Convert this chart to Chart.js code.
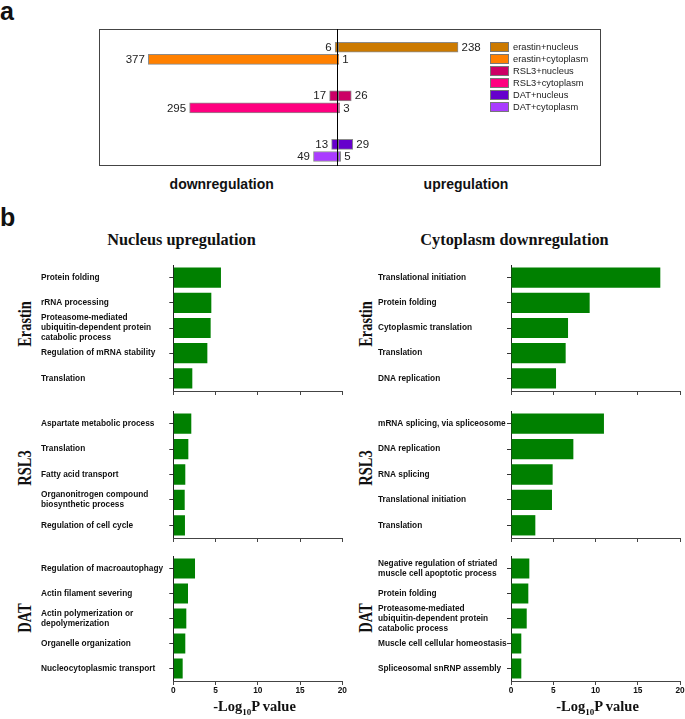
<!DOCTYPE html>
<html>
<head>
<meta charset="utf-8">
<script src="https://cdn.jsdelivr.net/npm/chart.js@4.4.0/dist/chart.umd.min.js"></script>
<style>
    body { margin: 0; background: #fff; }
    #page { position: relative; width: 685px; height: 719px; overflow: hidden; font-family: "Liberation Sans", Arial, sans-serif; }
    canvas { position: absolute; }
    .t { position: absolute; white-space: nowrap; line-height: 1; color: #111; }
    .c { transform: translateX(-50%); }
    .sans { font-family: "Liberation Sans", Arial, sans-serif; font-weight: bold; }
    .serif { font-family: "Liberation Serif", "Times New Roman", serif; font-weight: bold; }
    .rot { font-size: 19px; transform: translate(-50%, -50%) rotate(-90deg) scaleX(0.76); }
    .lg { position: absolute; left: 490px; height: 12px; font-size: 9.3px; color: #222; white-space: nowrap; }
    .lg span.sw { position: absolute; left: 0; top: 1px; width: 19px; height: 10px; box-sizing: border-box; border: 1px solid #777; }
    .lg span.tx { position: absolute; left: 23px; top: 1px; line-height: 10px; }
</style>
</head>
<body>
<div id="page">
    <div class="t sans" style="left:0px;top:-1px;font-size:25px;">a</div>
    <div class="t sans" style="left:0px;top:205px;font-size:25px;">b</div>

    <canvas id="panelA" width="502" height="137" style="left:99px;top:29px;"></canvas>
    <div id="legendA"></div>
    <div class="t sans c" style="left:221.7px;top:177px;font-size:14px;">downregulation</div>
    <div class="t sans c" style="left:466px;top:177px;font-size:14px;">upregulation</div>

    <div class="t serif c" style="left:181.5px;top:232.3px;font-size:16.3px;">Nucleus upregulation</div>
    <div class="t serif c" style="left:514.5px;top:232.3px;font-size:16.3px;">Cytoplasm downregulation</div>

    <div class="t serif rot" style="left:23.5px;top:324px;">Erastin</div>
    <div class="t serif rot" style="left:23.5px;top:467.5px;">RSL3</div>
    <div class="t serif rot" style="left:23.5px;top:618px;">DAT</div>
    <div class="t serif rot" style="left:364.5px;top:324px;">Erastin</div>
    <div class="t serif rot" style="left:364.5px;top:467.5px;">RSL3</div>
    <div class="t serif rot" style="left:364.5px;top:618px;">DAT</div>

    <canvas id="nucErastin" width="309" height="140" style="left:41px;top:257px;"></canvas>
    <canvas id="nucRsl3" width="309" height="141" style="left:41px;top:403px;"></canvas>
    <canvas id="nucDat" width="309" height="153" style="left:41px;top:548px;"></canvas>
    <canvas id="cytErastin" width="307" height="140" style="left:378px;top:257px;"></canvas>
    <canvas id="cytRsl3" width="307" height="141" style="left:378px;top:403px;"></canvas>
    <canvas id="cytDat" width="307" height="153" style="left:378px;top:548px;"></canvas>

    <div class="t serif c" style="left:254.5px;top:698.6px;font-size:14.5px;">-Log<span style="font-size:9px;position:relative;top:4px;">10</span>P value</div>
    <div class="t serif c" style="left:597.5px;top:698.6px;font-size:14.5px;">-Log<span style="font-size:9px;position:relative;top:4px;">10</span>P value</div>
</div>

<script>
// panel a: number of regulated proteins
var groups = ['erastin+nucleus', 'erastin+cytoplasm', 'RSL3+nucleus', 'RSL3+cytoplasm', 'DAT+nucleus', 'DAT+cytoplasm'];
var downCounts = [6, 377, 17, 295, 13, 49];
var upCounts = [238, 1, 26, 3, 29, 5];
var groupColors = ['#cc7a00', '#ff8000', '#cc0066', '#ff0080', '#6600cc', '#aa3cff'];

// panel b: GO terms, -log10 P
var nucErastinTerms = ['Protein folding', 'rRNA processing', ['Proteasome-mediated', 'ubiquitin-dependent protein', 'catabolic process'], 'Regulation of mRNA stability', 'Translation'];
var nucErastinValues = [5.64, 4.5, 4.42, 4.03, 2.25];
var nucRsl3Terms = ['Aspartate metabolic process', 'Translation', 'Fatty acid transport', ['Organonitrogen compound', 'biosynthetic process'], 'Regulation of cell cycle'];
var nucRsl3Values = [2.13, 1.78, 1.42, 1.35, 1.38];
var nucDatTerms = ['Regulation of macroautophagy', 'Actin filament severing', ['Actin polymerization or', 'depolymerization'], 'Organelle organization', 'Nucleocytoplasmic transport'];
var nucDatValues = [2.57, 1.74, 1.54, 1.42, 1.11];

var cytErastinTerms = ['Translational initiation', 'Protein folding', 'Cytoplasmic translation', 'Translation', 'DNA replication'];
var cytErastinValues = [17.67, 9.31, 6.75, 6.47, 5.33];
var cytRsl3Terms = ['mRNA splicing, via spliceosome', 'DNA replication', 'RNA splicing', 'Translational initiation', 'Translation'];
var cytRsl3Values = [11.0, 7.38, 4.93, 4.85, 2.88];
var cytDatTerms = [['Negative regulation of striated', 'muscle cell apoptotic process'], 'Protein folding', ['Proteasome-mediated', 'ubiquitin-dependent protein', 'catabolic process'], 'Muscle cell cellular homeostasis', 'Spliceosomal snRNP assembly'];
var cytDatValues = [2.17, 2.05, 1.86, 1.22, 1.22];

var SANS = '"Liberation Sans", Arial, sans-serif';
Chart.defaults.font.family = SANS;

// rows of panel a: an empty row on top, two empty rows between pairs
var rowLabels = [''];
var rowIndex = [null];
for (var g = 0; g < groups.length; g += 2) {
    rowLabels.push(groups[g], groups[g + 1]);
    rowIndex.push(g, g + 1);
    if (g + 2 < groups.length) {
        rowLabels.push(' ', '  ');
        rowIndex.push(null, null);
    }
}
var downData = rowIndex.map(function (i) { return i === null ? null : -downCounts[i]; });
var upData = rowIndex.map(function (i) { return i === null ? null : upCounts[i]; });
var rowColors = rowIndex.map(function (i) { return i === null ? '#fff' : groupColors[i]; });

var panelAPlugin = {
    id: 'panelA',
    afterDatasetsDraw: function (chart) {
        var ctx = chart.ctx;
        ctx.save();
        ctx.strokeStyle = '#444';
        ctx.lineWidth = 1;
        ctx.strokeRect(0.5, 0.5, chart.width - 1, chart.height - 1);
        var zx = Math.round(chart.scales.x.getPixelForValue(0)) - 0.5;
        ctx.strokeStyle = '#000';
        ctx.beginPath();
        ctx.moveTo(zx, 0);
        ctx.lineTo(zx, chart.height);
        ctx.stroke();
        ctx.font = '11.5px ' + SANS;
        ctx.fillStyle = '#222';
        ctx.textBaseline = 'middle';
        chart.data.datasets.forEach(function (ds, di) {
            chart.getDatasetMeta(di).data.forEach(function (bar, i) {
                var v = ds.data[i];
                if (v === null) return;
                if (v < 0) {
                    ctx.textAlign = 'right';
                    ctx.fillText(String(-v), bar.x - 3.5, bar.y + 0.5);
                } else {
                    ctx.textAlign = 'left';
                    ctx.fillText(String(v), bar.x + 3.5, bar.y + 0.5);
                }
            });
        });
        ctx.restore();
    }
};

new Chart(document.getElementById('panelA'), {
    type: 'bar',
    data: {
        labels: rowLabels,
        datasets: [{
            data: downData,
            backgroundColor: rowColors,
            borderColor: 'rgba(90,90,90,0.7)',
            borderWidth: 1,
            borderSkipped: false,
            barThickness: 10
        }, {
            data: upData,
            backgroundColor: rowColors,
            borderColor: 'rgba(90,90,90,0.7)',
            borderWidth: 1,
            borderSkipped: false,
            barThickness: 10
        }]
    },
    options: {
        indexAxis: 'y',
        animation: false,
        responsive: false,
        devicePixelRatio: 1,
        layout: { padding: { top: 0, left: 0, right: 0, bottom: 3.4 } },
        scales: {
            x: { display: false, min: -475, max: 522, stacked: true },
            y: { display: false, stacked: true }
        },
        plugins: { legend: { display: false }, tooltip: { enabled: false } }
    },
    plugins: [panelAPlugin]
});

// legend of panel a
var legendHtml = '';
for (var k = 0; k < groups.length; k++) {
    legendHtml += '<div class="lg" style="top:' + (40.7 + k * 12.06) + 'px;">' +
        '<span class="sw" style="background:' + groupColors[k] + ';"></span>' +
        '<span class="tx">' + groups[k] + '</span></div>';
}
document.getElementById('legendA').innerHTML = legendHtml;

function drawGoChart(id, terms, values, yWidth, padRight, showTicks) {
    new Chart(document.getElementById(id), {
        type: 'bar',
        data: {
            labels: terms,
            datasets: [{
                data: values,
                backgroundColor: '#008000',
                barPercentage: 0.8,
                categoryPercentage: 1
            }]
        },
        options: {
            indexAxis: 'y',
            animation: false,
            responsive: false,
            devicePixelRatio: 1,
            layout: { padding: { top: 8, right: padRight, bottom: 0, left: 0 } },
            plugins: { legend: { display: false }, tooltip: { enabled: false } },
            scales: {
                y: {
                    grid: { offset: false, drawOnChartArea: false, tickLength: 4, color: '#333' },
                    border: { color: '#222', width: 1 },
                    ticks: {
                        crossAlign: 'far',
                        autoSkip: false,
                        color: '#111',
                        font: { size: 8.3, weight: 'bold', lineHeight: 1.2 }
                    },
                    afterFit: function (s) {
                        s.width = yWidth;
                        s.paddingTop = 0;
                        s.paddingBottom = 0;
                    }
                },
                x: {
                    min: 0,
                    max: 20,
                    ticks: {
                        stepSize: 5,
                        display: showTicks,
                        maxRotation: 0,
                        padding: 1,
                        color: '#111',
                        font: { size: 8.3, weight: 'bold' }
                    },
                    grid: { drawOnChartArea: false, tickLength: 4, color: '#444' },
                    border: { color: '#444', width: 1 },
                    afterFit: function (s) {
                        s.height = showTicks ? 20 : 6;
                        s.paddingLeft = 0;
                        s.paddingRight = 0;
                    }
                }
            }
        }
    });
}

drawGoChart('nucErastin', nucErastinTerms, nucErastinValues, 132.3, 7.7, false);
drawGoChart('nucRsl3', nucRsl3Terms, nucRsl3Values, 132.3, 7.7, false);
drawGoChart('nucDat', nucDatTerms, nucDatValues, 132.3, 7.7, true);
drawGoChart('cytErastin', cytErastinTerms, cytErastinValues, 133, 5, false);
drawGoChart('cytRsl3', cytRsl3Terms, cytRsl3Values, 133, 5, false);
drawGoChart('cytDat', cytDatTerms, cytDatValues, 133, 5, true);
</script>
</body>
</html>
